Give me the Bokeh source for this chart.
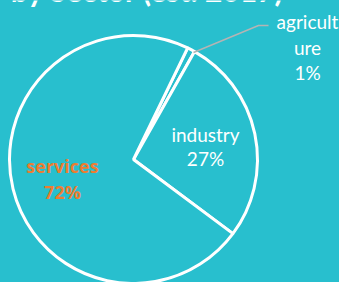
import math
from bokeh.plotting import figure
from bokeh.models import ColumnDataSource, GlobalInlineStyleSheet
from bokeh.core.properties import value
from bokeh.embed import file_html
from bokeh.resources import INLINE

# data
sectors = ["agriculture", "industry", "services"]
shares = [1, 27, 72]
label_lines = [["agricult", "ure", "1%"], ["industry", "27%"], ["services", "72%"]]
title_text = "by Sector (est. 2017)"

BG = "#28BFCE"
W, H = 339, 282

p = figure(width=W, height=H, x_range=(0, W), y_range=(0, H),
           output_backend="svg", toolbar_location=None,
           min_border=0, background_fill_color=BG, border_fill_color=BG,
           outline_line_color=None)
p.axis.visible = False
p.grid.visible = False
p.stylesheets = [GlobalInlineStyleSheet(css="html,body{margin:0;padding:0;background:#28BFCE;overflow:hidden;}")]

def Y(y):
    return H - y

cx, cy, r = 133, Y(159), 124
start_deg = 25.9  # clockwise from north
total = sum(shares)
starts, ends = [], []
acc = start_deg
for s in shares:
    a0 = acc
    a1 = acc + 360.0 * s / total
    starts.append(math.radians(90 - a0))
    ends.append(math.radians(90 - a1))
    acc = a1

src = ColumnDataSource(dict(x=[cx]*3, y=[cy]*3, start=starts, end=ends, name=sectors))
p.wedge(x="x", y="y", radius=r, start_angle="start", end_angle="end", direction="clock",
        source=src, fill_color=BG, line_color="white", line_width=3)

# leader line for agriculture
p.line(x=[193, 258, 268], y=[Y(52), Y(25), Y(25)], line_color="#B4B4B4", line_width=1.5)

font = value("Lato")
# agriculture label
for i, t in enumerate(label_lines[0]):
    p.text(x=[307], y=[Y(21 + 25.5 * i)], text=[t], text_font=font, text_font_size="19px",
           text_color="white", text_align="center", text_baseline="middle")
# industry label
for i, t in enumerate(label_lines[1]):
    p.text(x=[205], y=[Y(134 + 24 * i)], text=[t], text_font=font, text_font_size="19px",
           text_color="white", text_align="center", text_baseline="middle")
# services label
for i, t in enumerate(label_lines[2]):
    p.text(x=[62], y=[Y(165 + 26 * i)], text=[t], text_font=value("Open Sans"), text_font_size="18px",
           text_font_style="bold", text_color="#ED7D31", text_align="center", text_baseline="middle")

# title (mostly above visible area)
p.text(x=[147], y=[Y(-11)], text=[title_text], text_font=font, text_font_size="30px",
       text_font_style="bold", text_color="white", text_align="center", text_baseline="alphabetic")

open("out.html", "w").write(file_html(p, INLINE))
